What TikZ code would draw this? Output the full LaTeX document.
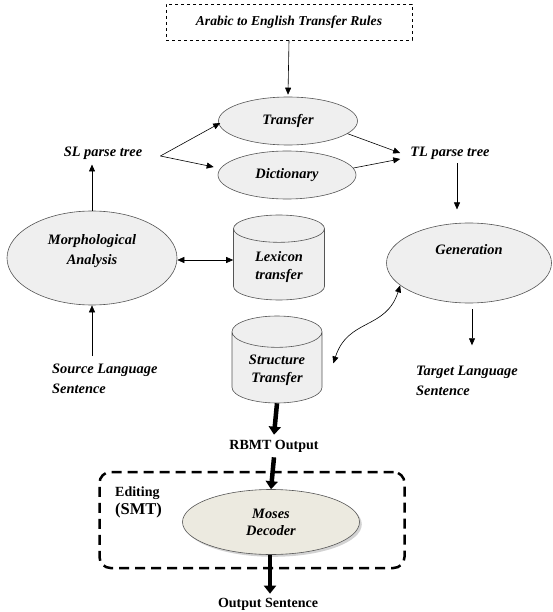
\documentclass[tikz,border=0pt]{standalone}
\usepackage{fontspec}
\setmainfont{Liberation Serif}
\usetikzlibrary{shapes.geometric,arrows.meta,shadows}
\definecolor{boxFill}{HTML}{EFEFEF}
\definecolor{mosesFill}{HTML}{ECEAE0}
\definecolor{lineGray}{HTML}{555555}
\tikzset{
  stageEllipse/.style={ellipse, draw=lineGray, fill=boxFill, line width=0.6pt,
    font=\bfseries\itshape\fontsize{14.4}{17}\selectfont, align=center, inner sep=0pt},
  dataStore/.style={cylinder, shape border rotate=90, draw=lineGray, fill=boxFill,
    line width=0.6pt, font=\bfseries\itshape\fontsize{14.4}{17.5}\selectfont, align=center,
    anchor=shape center},
  flowLabel/.style={font=\bfseries\itshape\fontsize{14.4}{19.5}\selectfont, align=left, inner sep=0pt},
  plainLabel/.style={font=\bfseries\fontsize{14}{19}\selectfont, align=left, inner sep=0pt},
  flowArrow/.style={-{Triangle[length=7pt,width=6pt]}, line width=0.6pt},
  bothArrow/.style={{Triangle[length=7pt,width=6pt]}-{Triangle[length=7pt,width=6pt]}, line width=0.6pt},
  bigArrow/.style={-{Triangle[length=8pt,width=12pt]}, line width=4.5pt}
}
\begin{document}
\begin{tikzpicture}[x=1pt,y=-1pt]
\useasboundingbox (0,0) rectangle (552,612);

% rule source
\node[draw, dashed, line width=0.6pt, minimum width=246pt, minimum height=36pt,
  font=\bfseries\itshape\fontsize{13.6}{16}\selectfont] (rules) at (289,22)
  {Arabic to English Transfer Rules};

% transfer stage
\node[stageEllipse, minimum width=139pt, minimum height=48pt] (transfer) at (288,121) {Transfer};
\node[stageEllipse, minimum width=138pt, minimum height=48pt] (dict) at (287,175) {Dictionary};
\node[flowLabel] (sl) at (103,153) {SL parse tree};
\node[flowLabel] (tl) at (450,153) {TL parse tree};

% analysis and generation
\node[stageEllipse, minimum width=170pt, minimum height=94pt,
  label={[stageEllipse, draw=none, fill=none, yshift=7pt]center:Morphological\\[3pt]Analysis}]
  (morph) at (92,258) {};
\node[dataStore, minimum width=91pt, minimum height=85pt, aspect=0.5] (lex) at (279,257.5)
  {Lexicon\\transfer};
\node[dataStore, minimum width=90pt, minimum height=87pt, aspect=0.5] (struct) at (277,359.5)
  {Structure\\Transfer};
\node[stageEllipse, minimum width=165pt, minimum height=80pt,
  label={[stageEllipse, draw=none, fill=none, yshift=13pt]center:Generation}]
  (gen) at (469,263) {};
\node[flowLabel, anchor=north west] (src) at (52,364) {Source Language\\Sentence};
\node[flowLabel, anchor=north west] (tgt) at (416,366) {Target Language\\Sentence};

% post-editing
\node[plainLabel] (rbmt) at (274,446) {RBMT Output};
\node[draw, dashed, line width=2.5pt, dash pattern=on 10pt off 6pt, rounded corners=11pt,
  minimum width=305pt, minimum height=96pt] (edit) at (252,520) {};
\node[plainLabel, anchor=north west] (smt) at (115,487)
  {Editing\\[-1pt]{\fontsize{16.5}{19}\selectfont(SMT)}};
\node[stageEllipse, fill=mosesFill, drop shadow={opacity=0.35}, minimum width=177pt,
  minimum height=65pt] (moses) at (271,522)
  {Moses\\Decoder};
\node[plainLabel] (out) at (268,604) {Output Sentence};

% connectors
\draw[flowArrow] (rules.south) -- ([yshift=2pt]transfer.north);
\draw[flowArrow] ([xshift=18pt,yshift=-3pt]sl.east) -- ([xshift=2pt,yshift=-2pt]transfer.west);
\draw[flowArrow] ([xshift=18pt,yshift=-3pt]sl.east) -- ([xshift=-4pt,yshift=8pt]dict.west);
\draw[flowArrow] (transfer.-12) -- ([xshift=-10pt]tl.west);
\draw[flowArrow] (dict.6) -- ([xshift=-10pt,yshift=-6pt]tl.west);
\draw[flowArrow] ([xshift=7pt,yshift=-4pt]tl.south) -- ([xshift=7pt,yshift=-50pt]tl.south);
\draw[flowArrow] (morph.north) -- ([yshift=-5pt]morph.north |- sl.south);
\draw[bothArrow] ([yshift=-2pt]morph.east) -- ([yshift=-2pt]lex.west |- morph.east);
\draw[flowArrow] ([yshift=8pt]morph.south |- src.north) -- (morph.south);
\draw[bothArrow] (gen.198) .. controls (386,330) and (348,318) .. ([xshift=11pt,yshift=7pt]struct.east);
\draw[flowArrow] ([xshift=3pt,yshift=-6pt]gen.south) -- ([xshift=3pt,yshift=-42pt]gen.south);
\draw[bigArrow] (struct.south) -- ([yshift=5pt]rbmt.north);
\draw[bigArrow] ([yshift=-5pt]rbmt.south) -- (moses.north);
\draw[bigArrow] ([xshift=-1pt]moses.south) -- ([xshift=2pt,yshift=4pt]out.north);
\end{tikzpicture}
\end{document}
